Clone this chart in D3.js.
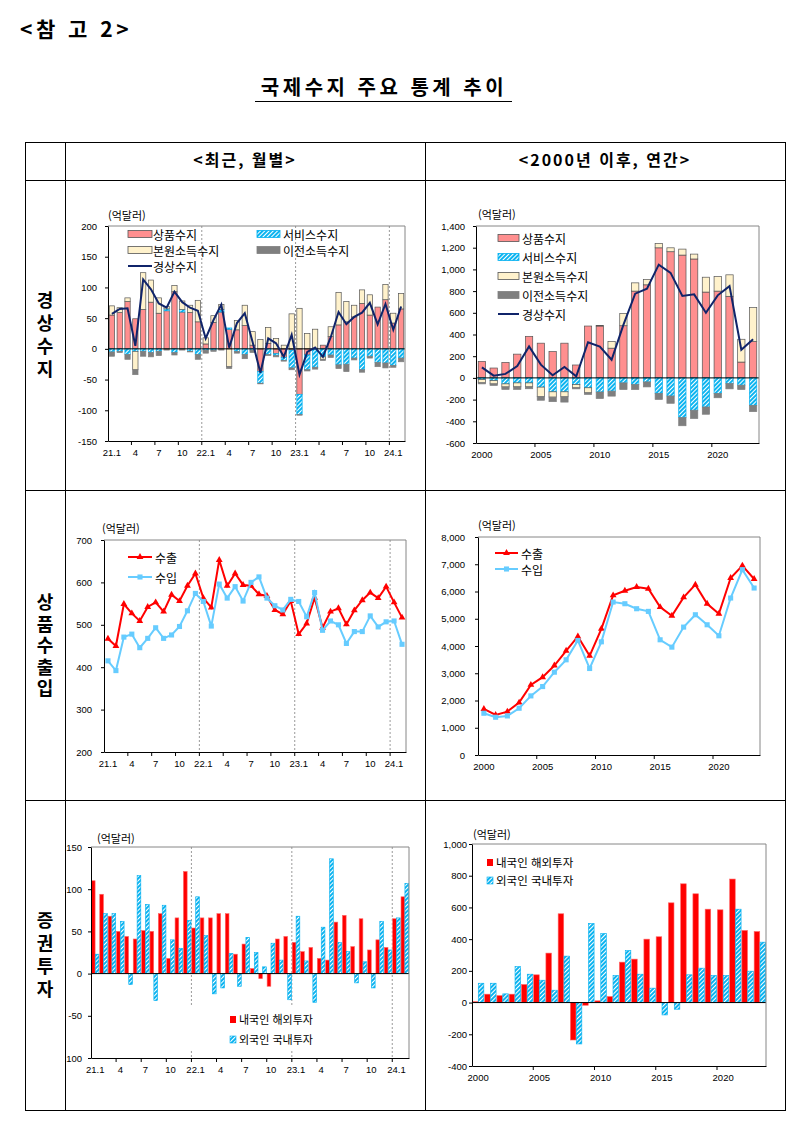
<!DOCTYPE html>
<html lang="ko">
<head>
<meta charset="utf-8">
<script src="https://cdn.jsdelivr.net/npm/d3@7/dist/d3.min.js"></script>
<style>
  body { margin: 0; background: #fff; }
  svg text { font-family: "Noto Sans CJK KR", "Noto Sans", sans-serif; fill: #000; }
  .axis text { font-family: "Liberation Sans", Arial, sans-serif; font-size: 9.5px; }
  .axis path, .axis line { stroke: #000; }
  .vlabel { writing-mode: vertical-rl; text-orientation: upright; }
</style>
</head>
<body>
<svg id="page" width="795" height="1142"></svg>
<script>
// ---- categories ----
var monthCats = [];
for (var yy = 21; yy <= 24; yy++) {
  for (var mm = 1; mm <= 12; mm++) {
    if (monthCats.length < 38) monthCats.push(yy + "." + mm);
  }
}
var yearCats = d3.range(2000, 2024).map(String);

var monthTickLabels = ["21.1", "4", "7", "10", "22.1", "4", "7", "10", "23.1", "4", "7", "10", "24.1"];
var yearTickLabels = ["2000", "2005", "2010", "2015", "2020"];

// ---- 경상수지 (monthly, 억달러) ----
var caGoodsM = [55, 59, 77, 49, 64, 76, 58, 62, 93, 60, 59, 44, 8, 43, 60, 32, 31, 38, 6, -37, 9, -8, -14, -2, -74, -10, 1, 6, 20, 39, 44, 52, 74, 55, 68, 80, 42, 65];
var caServM = [-5, -4, -9, -4, -4, -6, -4, 3, -6, 4, -4, -9, -2, -2, 4, 2, -4, -9, -2, -19, -9, -3, -5, -29, -33, -24, -30, -13, -10, -26, -25, -15, -34, -12, -22, -23, -27, -15];
var caPrimM = [15, 8, 6, -30, 60, 36, 25, 4, 10, 14, 12, 35, 10, 11, 8, -29, 15, 33, 22, 15, 26, 17, 6, 57, 66, 25, 31, -4, 16, 53, 33, 19, 22, 33, 0, 25, 16, 25];
var caSecM = [-7, -2, -8, -8, -8, -7, -7, -2, -4, -2, -1, -8, -5, -2, -2, -3, -3, -7, -4, -1, -2, -2, -1, -3, -1, -2, -3, -2, -4, -6, -12, -3, -4, -3, -7, -8, -3, -6];
var caTotalM = [57, 65, 66, 5, 113, 97, 74, 67, 93, 76, 67, 62, 17, 47, 72, 2, 42, 58, 11, -39, 17, 9, -13, 23, -42, -5, 2, -13, 19, 60, 40, 52, 59, 75, 40, 73, 31, 69];

// ---- 경상수지 (annual) ----
var caGoodsA = [152, 91, 143, 219, 383, 320, 243, 320, 119, 478, 478, 274, 481, 800, 858, 1199, 1163, 1132, 1096, 791, 800, 752, 146, 335];
var caServA = [-15, -25, -55, -46, -46, -85, -128, -128, -61, -91, -130, -122, -46, -61, -37, -143, -167, -365, -298, -268, -143, -52, -67, -253];
var caPrimA = [-30, -30, -28, -36, -36, -88, -49, -46, -30, -46, 5, 61, 112, 76, 49, 40, 36, 55, 45, 137, 134, 198, 210, 313];
var caSecA = [-10, -14, -23, -24, -18, -33, -42, -49, -10, -15, -60, -46, -61, -46, -46, -55, -67, -76, -76, -67, -40, -49, -40, -58];
var caTotalA = [97, 21, 37, 110, 290, 122, 24, 100, 15, 329, 288, 167, 488, 776, 822, 1044, 968, 755, 770, 600, 761, 846, 259, 356];

// ---- 상품수출입 ----
var exportM = [467, 450, 549, 527, 509, 542, 553, 531, 571, 556, 592, 621, 563, 541, 653, 592, 621, 594, 592, 572, 568, 535, 525, 556, 478, 503, 564, 493, 531, 539, 501, 534, 558, 576, 563, 590, 553, 517];
var importM = [415, 392, 471, 478, 446, 468, 493, 468, 476, 496, 533, 574, 555, 497, 596, 563, 590, 556, 600, 613, 563, 545, 535, 560, 555, 519, 576, 487, 509, 500, 456, 484, 484, 521, 495, 507, 509, 454];
var exportA = [1691, 1471, 1593, 1924, 2574, 2855, 3284, 3824, 4350, 3640, 4632, 5858, 6029, 6164, 6103, 5429, 5110, 5784, 6250, 5551, 5184, 6495, 6949, 6458];
var importA = [1532, 1385, 1434, 1716, 2169, 2512, 3039, 3493, 4203, 3174, 4154, 5613, 5551, 5368, 5270, 4228, 3958, 4694, 5147, 4779, 4375, 5760, 6801, 6127];

// ---- 증권투자 ----
var pfOutM = [110, 94, 68, 50, 44, 41, 51, 50, 71, 18, 66, 121, 54, 66, 66, 71, 71, 23, 35, 6, -6, -15, 41, 44, 37, 26, 31, 18, 16, 61, 69, 32, 65, 28, 40, 31, 65, 91];
var pfInM = [23, 71, 71, 62, -13, 116, 82, -32, 81, 40, 30, 63, 91, 45, -24, -17, 24, -15, 43, 25, 8, 36, 16, -31, 68, 15, -34, 55, 136, 37, 26, -11, 14, -17, 62, 28, 66, 107];
var pfOutA = [6, 53, 44, 53, 114, 175, 312, 560, -236, -17, 11, 38, 255, 274, 400, 415, 629, 749, 686, 589, 585, 779, 455, 448];
var pfInA = [122, 122, 55, 227, 179, 141, 78, 293, -261, 499, 436, 171, 328, 179, 91, -78, -42, 175, 217, 171, 171, 589, 198, 381];

// ---- axis ticks ----
var caMYTicks = [-150, -100, -50, 0, 50, 100, 150, 200];
var caMYLabels = ["-150", "-100", "-50", "0", "50", "100", "150", "200"];
var caAYTicks = [-600, -400, -200, 0, 200, 400, 600, 800, 1000, 1200, 1400];
var caAYLabels = ["-600", "-400", "-200", "0", "200", "400", "600", "800", "1,000", "1,200", "1,400"];
var trMYTicks = [200, 300, 400, 500, 600, 700];
var trMYLabels = ["200", "300", "400", "500", "600", "700"];
var trAYTicks = [0, 1000, 2000, 3000, 4000, 5000, 6000, 7000, 8000];
var trAYLabels = ["0", "1,000", "2,000", "3,000", "4,000", "5,000", "6,000", "7,000", "8,000"];
var pfMYTicks = [-100, -50, 0, 50, 100, 150];
var pfMYLabels = ["-100", "-50", "0", "50", "100", "150"];
var pfAYTicks = [-400, -200, 0, 200, 400, 600, 800, 1000];
var pfAYLabels = ["-400", "-200", "0", "200", "400", "600", "800", "1,000"];

var caKeys = ["goods", "services", "primary", "secondary"];
var caNames = {goods: "상품수지", services: "서비스수지", primary: "본원소득수지", secondary: "이전소득수지"};
var caFill = {goods: "#ff8f8f", services: "url(#hatch)", primary: "#fff2cc", secondary: "#7f7f7f"};
var caStroke = {goods: "#555", services: "#00b0f0", primary: "#555", secondary: "#7f7f7f"};
var NAVY = "#10246a", RED = "#ff0000", SKY = "#66ccff";

var svg = d3.select("#page");

// hatch pattern for 서비스수지 / 외국인 국내투자
var defs = svg.append("defs");
var hatch = defs.append("pattern")
    .attr("id", "hatch")
    .attr("patternUnits", "userSpaceOnUse")
    .attr("width", 3).attr("height", 3)
    .attr("patternTransform", "rotate(45)");
hatch.append("rect").attr("width", 3).attr("height", 3).attr("fill", "#fff");
hatch.append("line").attr("x1", 1).attr("x2", 1).attr("y1", 0).attr("y2", 3)
    .attr("stroke", "#00b0f0").attr("stroke-width", 1.9);

// the bottom-left cell cuts off the minus of "-100"
defs.append("clipPath").attr("id", "cell31")
  .append("rect").attr("x", 66).attr("y", 801).attr("width", 358).attr("height", 308);

// ---- page titles and table ----
svg.append("text").attr("x", 20).attr("y", 37)
    .attr("font-size", 21).attr("font-weight", 700).attr("letter-spacing", 3.5)
    .text("<참 고 2>");
svg.append("text").attr("x", 384).attr("y", 95)
    .attr("text-anchor", "middle").attr("font-size", 20).attr("font-weight", 700)
    .attr("letter-spacing", 3.5)
    .text("국제수지 주요 통계 추이");
svg.append("line").attr("x1", 255).attr("x2", 512).attr("y1", 101.5).attr("y2", 101.5)
    .attr("stroke", "#000").attr("stroke-width", 1.2);

var table = svg.append("g").attr("stroke", "#000").attr("fill", "none");
table.append("rect").attr("x", 25.5).attr("y", 142.5).attr("width", 760).attr("height", 968);
[180.5, 490.5, 800.5].forEach(function (y) {
  table.append("line").attr("x1", 25.5).attr("x2", 785.5).attr("y1", y).attr("y2", y);
});
[65.5, 425.5].forEach(function (x) {
  table.append("line").attr("x1", x).attr("x2", x).attr("y1", 142.5).attr("y2", 1110.5);
});

svg.append("text").attr("x", 245).attr("y", 166).attr("text-anchor", "middle")
    .attr("font-size", 16).attr("font-weight", 700).attr("letter-spacing", 2).text("<최근, 월별>");
svg.append("text").attr("x", 605).attr("y", 166).attr("text-anchor", "middle")
    .attr("font-size", 16).attr("font-weight", 700).attr("letter-spacing", 2).text("<2000년 이후, 연간>");

// vertical row labels, one text each
function rowLabel(word, cy, gap) {
  svg.append("text")
      .attr("class", "vlabel")
      .attr("x", 45).attr("y", cy)
      .attr("text-anchor", "middle")
      .attr("font-size", 18).attr("font-weight", 700)
      .attr("letter-spacing", gap)
      .text(word);
}
rowLabel("경상수지", 337, 5);
rowLabel("상품수출입", 647, 3.5);
rowLabel("증권투자", 957, 5);

// ---- helpers ----
function center(x, c) { return x(c) + x.bandwidth() / 2; }

function unitLabel(g, x, y) {
  g.append("text").attr("x", x).attr("y", y).attr("dominant-baseline", "central")
      .attr("font-size", 11).text("(억달러)");
}

function axes(g, x, y, o) {
  var xl = x.range()[0], xr = x.range()[1];
  var yb = y.range()[0], yt = y.range()[1];
  g.append("path").attr("d", "M" + xl + "," + yt + "H" + xr + "V" + yb)
      .attr("fill", "none").attr("stroke", "#868686");
  g.append("g").attr("class", "axis").attr("transform", "translate(" + xl + ",0)")
      .call(d3.axisLeft(y).tickValues(o.yTicks)
        .tickFormat(function (d, i) { return o.yLabels[i]; })
        .tickSize(3).tickSizeOuter(0).tickPadding(o.ypad));
  var every = o.every;
  var labelled = x.domain().filter(function (d, i) { return i % every === 0; });
  g.append("g").attr("class", "axis").attr("transform", "translate(0," + yb + ")")
      .call(d3.axisBottom(x).tickValues(labelled)
        .tickFormat(function (d, i) { return o.xLabels[i]; })
        .tickSize(0).tickSizeOuter(0).tickPadding(8));
  var bounds = d3.range(every, x.domain().length, every);
  g.append("g").selectAll("line").data(bounds).join("line")
      .attr("x1", function (k) { return xl + k * x.step(); })
      .attr("x2", function (k) { return xl + k * x.step(); })
      .attr("y1", yb).attr("y2", yb + 4).attr("stroke", "#000");
}

function yearDividers(g, x, y, ks) {
  var xl = x.range()[0];
  g.append("g").selectAll("line").data(ks).join("line")
      .attr("x1", function (k) { return xl + k * x.step(); })
      .attr("x2", function (k) { return xl + k * x.step(); })
      .attr("y1", y.range()[1]).attr("y2", y.range()[0])
      .attr("stroke", "#9a9a9a").attr("stroke-dasharray", "2,2");
}

function zeroLine(g, x, y) {
  g.append("line").attr("x1", x.range()[0]).attr("x2", x.range()[1])
      .attr("y1", y(0)).attr("y2", y(0)).attr("stroke", "#000");
}

function stackedBars(g, x, y, cats, goods, serv, prim, sec, barFrac) {
  var rows = cats.map(function (c, i) {
    return {cat: c, goods: goods[i], services: serv[i], primary: prim[i], secondary: sec[i]};
  });
  var series = d3.stack().keys(caKeys).offset(d3.stackOffsetDiverging)(rows);
  var bw = x.bandwidth() * barFrac;
  g.append("g").selectAll("g").data(series).join("g")
      .attr("fill", function (s) { return caFill[s.key]; })
      .attr("stroke", function (s) { return caStroke[s.key]; })
      .attr("stroke-width", 0.7)
    .selectAll("rect").data(function (s) { return s; }).join("rect")
      .attr("x", function (d) { return x(d.data.cat) + (x.bandwidth() - bw) / 2; })
      .attr("width", bw)
      .attr("y", function (d) { return y(d[1]); })
      .attr("height", function (d) { return y(d[0]) - y(d[1]); });
}

function totalLine(g, x, y, cats, vals) {
  g.append("path").datum(vals)
      .attr("d", d3.line()
        .x(function (d, i) { return center(x, cats[i]); })
        .y(function (d) { return y(d); }))
      .attr("fill", "none").attr("stroke", NAVY).attr("stroke-width", 2);
}

function markerLine(g, x, y, cats, vals, color, symbol, size) {
  g.append("path").datum(vals)
      .attr("d", d3.line()
        .x(function (d, i) { return center(x, cats[i]); })
        .y(function (d) { return y(d); }))
      .attr("fill", "none").attr("stroke", color).attr("stroke-width", 2);
  g.append("g").selectAll("path").data(vals).join("path")
      .attr("transform", function (d, i) { return "translate(" + center(x, cats[i]) + "," + y(d) + ")"; })
      .attr("d", d3.symbol(symbol, size))
      .attr("fill", color);
}

function groupedBars(g, x, y, cats, outV, inV, pad) {
  var x1 = d3.scaleBand().domain(["out", "in"]).range([0, x.bandwidth()]).paddingOuter(pad).paddingInner(0.05);
  var rows = cats.map(function (c, i) { return {cat: c, out: outV[i], "in": inV[i]}; });
  g.append("g").selectAll("g").data(rows).join("g")
      .attr("transform", function (d) { return "translate(" + x(d.cat) + ",0)"; })
    .selectAll("rect")
    .data(function (d) { return ["out", "in"].map(function (k) { return {key: k, value: d[k]}; }); })
    .join("rect")
      .attr("x", function (d) { return x1(d.key); })
      .attr("width", x1.bandwidth())
      .attr("y", function (d) { return y(Math.max(0, d.value)); })
      .attr("height", function (d) { return Math.abs(y(d.value) - y(0)); })
      .attr("fill", function (d) { return d.key === "out" ? RED : "url(#hatch)"; })
      .attr("stroke", function (d) { return d.key === "out" ? "#ff6666" : "#00b0f0"; })
      .attr("stroke-width", 0.6);
}

function legendSwatch(g, kind, x, y, w) {
  if (kind === "line") {
    g.append("line").attr("x1", x).attr("x2", x + w).attr("y1", y).attr("y2", y)
        .attr("stroke", NAVY).attr("stroke-width", 2);
  } else {
    g.append("rect").attr("x", x).attr("y", y - 3.5).attr("width", w).attr("height", 7)
        .attr("fill", caFill[kind]).attr("stroke", caStroke[kind]).attr("stroke-width", 0.8);
  }
}

function legendText(g, x, y, t, size) {
  g.append("text").attr("x", x).attr("y", y).attr("dominant-baseline", "central")
      .attr("font-size", size).text(t);
}

// ================= 1. 경상수지 월별 =================
var g1 = svg.append("g");
var x1s = d3.scaleBand().domain(monthCats).range([108, 405]);
var y1s = d3.scaleLinear().domain([-150, 200]).range([441, 226]);
unitLabel(g1, 108, 215);
yearDividers(g1, x1s, y1s, [12, 24, 36]);
stackedBars(g1, x1s, y1s, monthCats, caGoodsM, caServM, caPrimM, caSecM, 0.68);
zeroLine(g1, x1s, y1s);
totalLine(g1, x1s, y1s, monthCats, caTotalM);
axes(g1, x1s, y1s, {yTicks: caMYTicks, yLabels: caMYLabels, ypad: 8, every: 3, xLabels: monthTickLabels});
legendSwatch(g1, "goods", 128, 234, 24); legendText(g1, 153, 234, "상품수지", 12);
legendSwatch(g1, "primary", 128, 250, 24); legendText(g1, 153, 250, "본원소득수지", 12);
legendSwatch(g1, "line", 128, 266, 24); legendText(g1, 153, 266, "경상수지", 12);
legendSwatch(g1, "services", 257, 234, 23); legendText(g1, 283, 234, "서비스수지", 12);
legendSwatch(g1, "secondary", 257, 250, 23); legendText(g1, 283, 250, "이전소득수지", 12);

// ================= 2. 경상수지 연간 =================
var g2 = svg.append("g");
var x2s = d3.scaleBand().domain(yearCats).range([476, 759]);
var y2s = d3.scaleLinear().domain([-600, 1400]).range([443, 226]);
unitLabel(g2, 478, 214);
stackedBars(g2, x2s, y2s, yearCats, caGoodsA, caServA, caPrimA, caSecA, 0.62);
zeroLine(g2, x2s, y2s);
totalLine(g2, x2s, y2s, yearCats, caTotalA);
axes(g2, x2s, y2s, {yTicks: caAYTicks, yLabels: caAYLabels, ypad: 8, every: 5, xLabels: yearTickLabels});
["goods", "services", "primary", "secondary", "line"].forEach(function (k, i) {
  legendSwatch(g2, k, 498, 238 + i * 19, 21);
  legendText(g2, 522, 238 + i * 19, k === "line" ? "경상수지" : caNames[k], 12);
});

// ================= 3. 상품수출입 월별 =================
var g3 = svg.append("g");
var x3s = d3.scaleBand().domain(monthCats).range([104, 406]);
var y3s = d3.scaleLinear().domain([200, 700]).range([752, 540]);
unitLabel(g3, 102, 528);
yearDividers(g3, x3s, y3s, [12, 24, 36]);
markerLine(g3, x3s, y3s, monthCats, exportM, RED, d3.symbolTriangle, 20);
markerLine(g3, x3s, y3s, monthCats, importM, SKY, d3.symbolSquare, 26);
axes(g3, x3s, y3s, {yTicks: trMYTicks, yLabels: trMYLabels, ypad: 9, every: 3, xLabels: monthTickLabels});

function tradeLegend(g, x, y, w) {
  [[RED, d3.symbolTriangle, 20, "수출"], [SKY, d3.symbolSquare, 26, "수입"]].forEach(function (e, i) {
    var yy = y + i * (w > 23 ? 20 : 16);
    g.append("line").attr("x1", x).attr("x2", x + w).attr("y1", yy).attr("y2", yy)
        .attr("stroke", e[0]).attr("stroke-width", 2);
    g.append("path").attr("transform", "translate(" + (x + w / 2) + "," + yy + ")")
        .attr("d", d3.symbol(e[1], e[2])).attr("fill", e[0]);
    legendText(g, x + w + 3, yy, e[3], 12);
  });
}
tradeLegend(g3, 128, 557, 24);

// ================= 4. 상품수출입 연간 =================
var g4 = svg.append("g");
var x4s = d3.scaleBand().domain(yearCats).range([478, 760]);
var y4s = d3.scaleLinear().domain([0, 8000]).range([755, 537]);
unitLabel(g4, 478, 525);
markerLine(g4, x4s, y4s, yearCats, exportA, RED, d3.symbolTriangle, 20);
markerLine(g4, x4s, y4s, yearCats, importA, SKY, d3.symbolSquare, 26);
axes(g4, x4s, y4s, {yTicks: trAYTicks, yLabels: trAYLabels, ypad: 10, every: 5, xLabels: yearTickLabels});
tradeLegend(g4, 495, 553, 23);

// ================= 5. 증권투자 월별 =================
var g5 = svg.append("g").attr("clip-path", "url(#cell31)");
var x5s = d3.scaleBand().domain(monthCats).range([91, 409]);
var y5s = d3.scaleLinear().domain([-100, 150]).range([1058, 847]);
unitLabel(g5, 97, 838);
yearDividers(g5, x5s, y5s, [12, 24, 36]);
groupedBars(g5, x5s, y5s, monthCats, pfOutM, pfInM, 0.1);
zeroLine(g5, x5s, y5s);
axes(g5, x5s, y5s, {yTicks: pfMYTicks, yLabels: pfMYLabels, ypad: 6, every: 3, xLabels: monthTickLabels});

function pfLegend(g, x, y, step, size, bg) {
  if (bg) {
    g.append("rect").attr("x", x - 45).attr("y", y - 12).attr("width", 136).attr("height", step + 24)
        .attr("fill", "#fff");
  }
  g.append("rect").attr("x", x).attr("y", y - 3).attr("width", 6).attr("height", 7).attr("fill", RED);
  legendText(g, x + 9, y, "내국인 해외투자", size);
  g.append("rect").attr("x", x).attr("y", y + step - 3).attr("width", 6).attr("height", 7)
      .attr("fill", "url(#hatch)").attr("stroke", "#00b0f0").attr("stroke-width", 0.6);
  legendText(g, x + 9, y + step, "외국인 국내투자", size);
}
pfLegend(g5, 230, 1019, 20, 11, true);

// ================= 6. 증권투자 연간 =================
var g6 = svg.append("g");
var x6s = d3.scaleBand().domain(yearCats).range([472, 766]);
var y6s = d3.scaleLinear().domain([-400, 1000]).range([1066, 844]);
unitLabel(g6, 473, 834);
groupedBars(g6, x6s, y6s, yearCats, pfOutA, pfInA, 0.07);
zeroLine(g6, x6s, y6s);
axes(g6, x6s, y6s, {yTicks: pfAYTicks, yLabels: pfAYLabels, ypad: 2, every: 5, xLabels: yearTickLabels});
pfLegend(g6, 487, 862, 18, 11.5, false);
</script>
</body>
</html>
